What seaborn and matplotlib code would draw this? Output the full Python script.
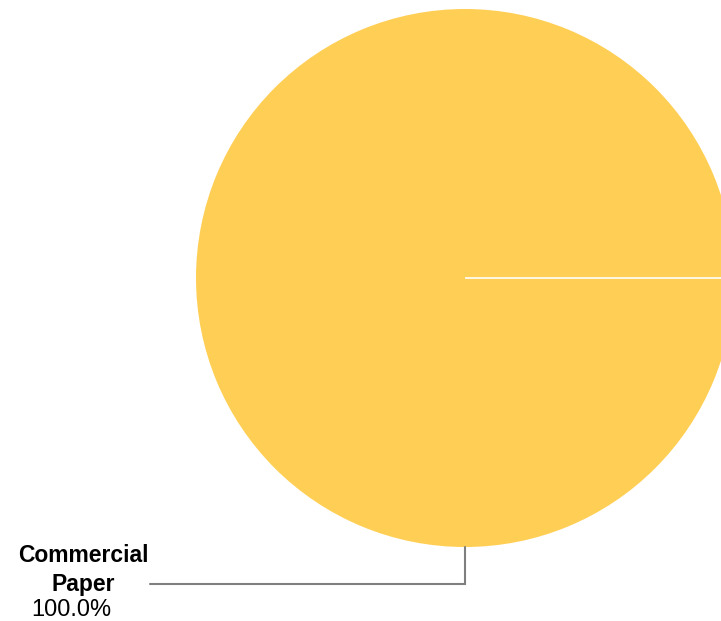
import numpy as np
import seaborn as sns
import matplotlib.pyplot as plt

categories = ["Commercial Paper"]
values = [100.0]
colors = ["#FFCF55"]

sns.set_theme(style="white")
plt.rcParams["font.family"] = ["Liberation Sans", "DejaVu Sans"]

fig = plt.figure(figsize=(7.21, 6.21), dpi=100)
ax = fig.add_axes([0, 0, 1, 1])

# pie laid out in pixel-like coordinates so it can be clipped on the right
cx, cy, r = 465, 278, 269
wedges, _ = ax.pie(values, colors=colors, radius=r, center=(cx, cy),
                   startangle=0, counterclock=False,
                   wedgeprops=dict(edgecolor="none"))
# white separator where the single slice starts
for w in wedges:
    t = np.deg2rad(w.theta1)
    ax.plot([cx, cx + r * np.cos(t)], [cy, cy + r * np.sin(t)],
            color="white", lw=1.2, solid_capstyle="butt")

ax.set_xlim(0, 721)
ax.set_ylim(621, 0)
ax.set_aspect("equal")
ax.axis("off")

# leader line to label
pct = values[0] / sum(values) * 100
ly = 584
ax.plot([cx, cx, 150], [cy + r, ly, ly], color="#7f7f7f", lw=1.5,
        solid_joinstyle="miter")
name1, name2 = categories[0].split(" ")
ax.text(83, 555, name1, ha="center", va="center", fontsize=16.5,
        fontweight="bold", color="black")
ax.text(83, 584, name2, ha="center", va="center", fontsize=16.5,
        fontweight="bold", color="black")
ax.text(71, 610, f"{pct:.1f}%", ha="center", va="center", fontsize=17,
        color="black")

plt.savefig("out.png", dpi=100)
